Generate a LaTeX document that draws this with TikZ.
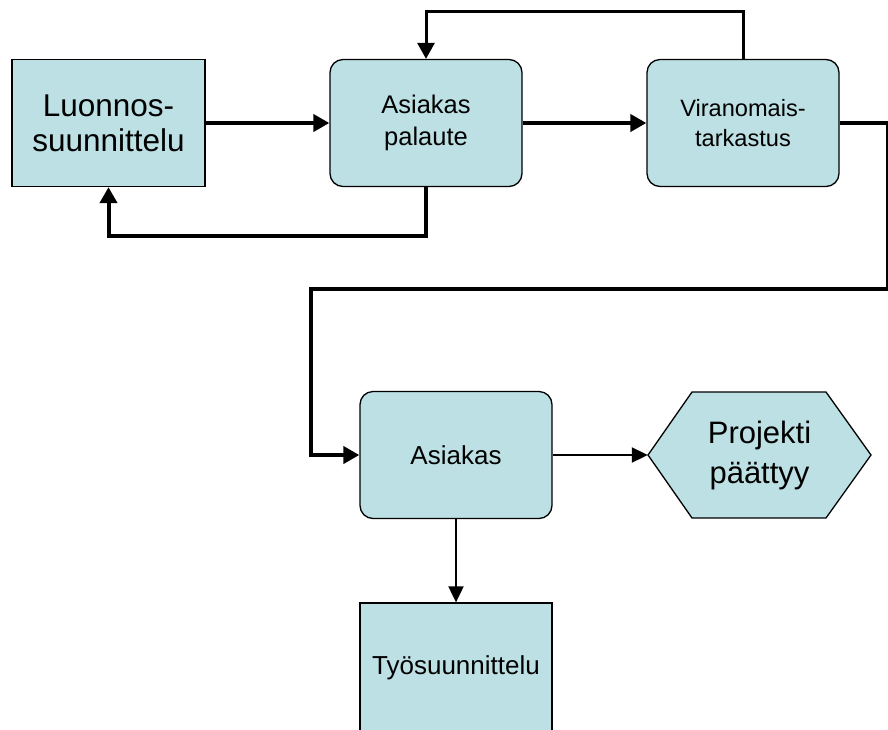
\documentclass[tikz,border=0pt]{standalone}
\usepackage{fontspec}
\setmainfont{Liberation Sans}
\usetikzlibrary{arrows.meta,calc}
\definecolor{boxfill}{RGB}{188,224,227}
\tikzset{
  box/.style={draw=black, line width=1.3pt, fill=boxfill, align=center,
    minimum width=192pt, minimum height=127pt, inner sep=0pt},
  roundbox/.style={box, rounded corners=13pt},
  link/.style={draw=black, line width=4pt,
    -{Triangle[length=16pt,width=17pt]}},
  thinlink/.style={draw=black, line width=2pt,
    -{Triangle[length=16pt,width=15pt]}},
  midlink/.style={link, line width=3pt},
}
\newcommand{\fs}[2]{\fontsize{#1pt}{#2pt}\selectfont}
\begin{document}
\begin{tikzpicture}[x=1pt,y=-1pt]
\useasboundingbox (0,0) rectangle (888,729);

% process boxes
\node[box, minimum width=193pt, font=\fs{31.5}{35}] (luo) at (108.5,123) {Luonnos-\\suunnittelu};
\node[roundbox, font=\fs{25.5}{32}] (pal) at (426,123) {Asiakas\\palaute};
\node[roundbox, font=\fs{23.6}{30}] (vir) at (743,123) {Viranomais-\\tarkastus};
\node[roundbox, font=\fs{26}{32}] (asi) at (456,455) {Asiakas};
\node[box, minimum height=130pt, font=\fs{26}{32}] (tyo) at (456,668) {Työsuunnittelu};

% end state: hexagon
\coordinate (pc) at (759.5,455);
\draw[line width=1.3pt, fill=boxfill]
  ($(pc)+(-111.5,0)$) -- ($(pc)+(-67.5,-63)$) -- ($(pc)+(66.5,-63)$)
  -- ($(pc)+(111.5,0)$) -- ($(pc)+(66.5,63)$) -- ($(pc)+(-67.5,63)$) -- cycle;
\node[align=center, minimum width=223pt, minimum height=126pt, inner sep=0pt,
  font=\fs{31}{40}] (proj) at (pc) {Projekti\\päättyy};

% connectors
\draw[link] (luo.east) -- (pal.west);
\draw[link] (pal.east) -- (vir.west);
\draw[link] (pal.south) -- ++(0,49) -| (luo.south);
\draw[midlink] (vir.north) -- ++(0,-47) -| (pal.north);
\draw[link] (vir.east) -- ++(48,0) -- ++(0,166) -| ($(asi.west)+(-48,0)$) -- (asi.west);
\draw[thinlink] (asi.east) -- (proj.west);
\draw[thinlink] (asi.south) -- (tyo.north);
\end{tikzpicture}
\end{document}
